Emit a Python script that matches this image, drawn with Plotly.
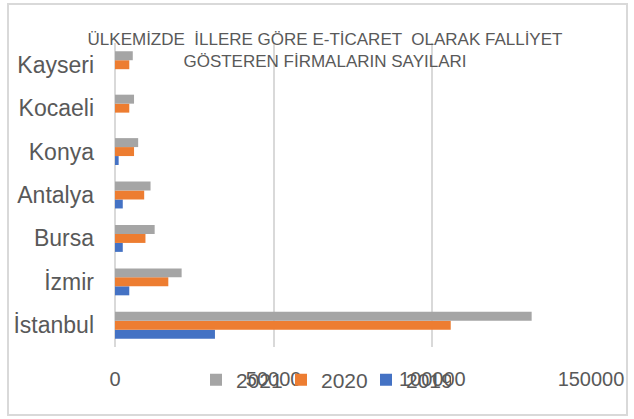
import plotly.graph_objects as go

# provinces, bottom to top as drawn
cities = ["İstanbul", "İzmir", "Bursa", "Antalya", "Konya", "Kocaeli", "Kayseri"]
y2019 = [31500, 4500, 2450, 2450, 1150, 0, 0]
y2020 = [105800, 16800, 9600, 9200, 6000, 4500, 4500]
y2021 = [131300, 21000, 12500, 11200, 7300, 6000, 5600]
x_ticks = [0, 50000, 100000, 150000]

W, H = 634, 419
L, R, T, B = 115, 43, 43, 72
pw, ph = W - L - R, H - T - B


def px_x(x):
    return (x - L) / pw


def px_y(y):
    return (H - B - y) / ph


txt = "#595959"
font = "Liberation Sans"

fig = go.Figure()
fig.add_trace(go.Bar(y=cities, x=y2019, orientation="h", name="2019",
                     marker=dict(color="#4472c4", line_width=0)))
fig.add_trace(go.Bar(y=cities, x=y2020, orientation="h", name="2020",
                     marker=dict(color="#ed7d31", line_width=0)))
fig.add_trace(go.Bar(y=cities, x=y2021, orientation="h", name="2021",
                     marker=dict(color="#a5a5a5", line_width=0)))

fig.update_layout(
    width=W, height=H,
    margin=dict(l=L, r=R, t=T, b=B),
    paper_bgcolor="white", plot_bgcolor="white",
    barmode="group", bargap=0.38, bargroupgap=0,
    font=dict(family=font, color=txt),
    title=dict(
        text="ÜLKEMİZDE  İLLERE GÖRE E-TİCARET  OLARAK FALLİYET<br>GÖSTEREN FİRMALARIN SAYILARI",
        x=325 / W, y=1 - 45 / H, xref="container", yref="container",
        xanchor="center", yanchor="middle",
        font=dict(size=17, color=txt, family=font),
    ),
    xaxis=dict(range=[0, 150000], tickvals=x_ticks, ticktext=[str(v) for v in x_ticks],
               showgrid=True, gridcolor="#d9d9d9", gridwidth=2,
               zeroline=True, zerolinecolor="#d9d9d9", zerolinewidth=2,
               showline=False, ticks="", ticklabelstandoff=18, automargin=False,
               tickfont=dict(size=20, color=txt)),
    yaxis=dict(showgrid=False, showline=False, ticks="", ticklabelstandoff=20,
               automargin=False, tickfont=dict(size=23, color=txt)),
    legend=dict(orientation="h", traceorder="reversed",
                xref="container", yref="container",
                x=196 / W, y=1 - 380 / H, xanchor="left", yanchor="middle",
                entrywidth=40, entrywidthmode="pixels",
                font=dict(size=21, color=txt), bgcolor="rgba(0,0,0,0)"),
    showlegend=True,
)

# outer chart border
fig.add_shape(type="rect", xref="paper", yref="paper",
              x0=px_x(8), x1=px_x(627), y0=px_y(415), y1=px_y(4),
              line=dict(color="#d9d9d9", width=2), layer="below")

# drop the page's default body margin so the figure sits at the window corner
fig.write_html("out.html", config={"displayModeBar": False},
               post_script="document.body.style.margin='0';")
